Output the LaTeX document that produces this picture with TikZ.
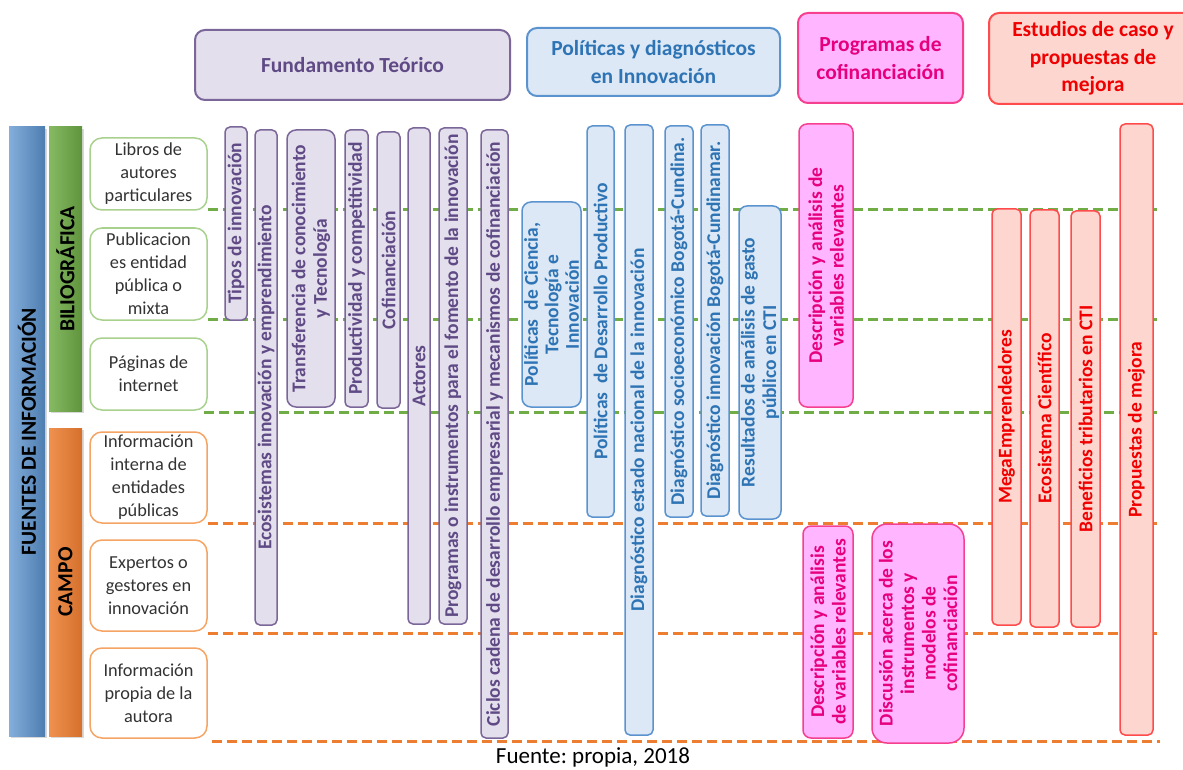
\documentclass[tikz,border=0pt]{standalone}
\usepackage{fontspec}
\setmainfont{Carlito}
\frenchspacing
\usetikzlibrary{shadows}
\definecolor{purpF}{HTML}{E4DFEC}
\definecolor{purpD}{HTML}{7B6699}
\definecolor{purpT}{HTML}{5F4A86}
\definecolor{blueF}{HTML}{DCE8F5}
\definecolor{blueD}{HTML}{5B93CF}
\definecolor{blueT}{HTML}{2E74B5}
\definecolor{pinkF}{HTML}{FFB5FF}
\definecolor{pinkD}{HTML}{F5408F}
\definecolor{pinkT}{HTML}{E6007E}
\definecolor{redF}{HTML}{FCD6CF}
\definecolor{redD}{HTML}{FF4B4B}
\definecolor{redT}{HTML}{F00000}
\definecolor{gLine}{HTML}{70AD47}
\definecolor{oLine}{HTML}{ED7D31}
\definecolor{gBox}{HTML}{A9D18E}
\definecolor{oBox}{HTML}{F5A464}
\definecolor{txtG}{HTML}{333333}
\tikzset{
  bar/.style={rounded corners=5pt, line width=1.5pt, inner sep=0pt, align=center, rotate=90,
    font=\bfseries\fontsize{19.5}{21.5}\selectfont},
  purp/.style={bar, fill=purpF, draw=purpD, text=purpT},
  blu/.style={bar, fill=blueF, draw=blueD, text=blueT},
  pnk/.style={bar, fill=pinkF, draw=pinkD, text=pinkT},
  rd/.style={bar, fill=redF, draw=redD, text=redT},
  head/.style={rounded corners=10pt, line width=2pt, inner sep=0pt, align=center,
    font=\bfseries\fontsize{21.5}{27.5}\selectfont},
  src/.style={rounded corners=12pt, line width=1.5pt, fill=white, inner sep=0pt, align=center,
    minimum width=117pt, text=txtG, font=\fontsize{18.3}{23}\selectfont},
  srcG/.style={src, draw=gBox},
  srcO/.style={src, draw=oBox},
  big/.style={inner sep=0pt, rotate=90, text=black, font=\bfseries\fontsize{21.5}{24}\selectfont,
    drop shadow={opacity=0.3, shadow xshift=2pt, shadow yshift=-2pt}},
  gdash/.style={draw=gLine, line width=3pt, dash pattern=on 10pt off 5pt},
  odash/.style={draw=oLine, line width=3pt, dash pattern=on 10pt off 5pt},
}
\begin{document}
\begin{tikzpicture}[x=1pt,y=-1pt]
\useasboundingbox (0,0) rectangle (1183,770);
\fill[white] (0,0) rectangle (1183,770);
\clip (0,0) rectangle (1183,770);

% big left bars
\node[big, left color=white!25!blueD, right color=blueD!85!black, minimum width=609pt, minimum height=36pt] (fuentes) at (27,431.5) {FUENTES DE INFORMACIÓN};
\node[big, left color=white!15!gLine, right color=gLine!85!black, minimum width=284pt, minimum height=33pt] (bib) at (65.5,269) {BILIOGRÁFICA};
\node[big, left color=white!15!oLine, right color=oLine!90!black, minimum width=308pt, minimum height=33pt] (campo) at (65.5,582) {CAMPO};

% source boxes
\node[srcG, minimum height=72pt] (libros) at (148.5,174) {Libros de\\autores\\particulares};
\node[srcG, minimum height=92pt] (publ) at (148.5,274) {Publicacion\\es entidad\\pública o\\mixta};
\node[srcG, minimum height=72pt] (pag) at (148.5,374) {Páginas de\\internet};
\node[srcO, minimum height=91pt] (infint) at (148.5,477.5) {Información\\interna de\\entidades\\públicas};
\node[srcO, minimum height=91pt] (exp) at (148.5,585.5) {Expertos o\\gestores en\\innovación};
\node[srcO, minimum height=90pt] (infprop) at (148.5,693) {Información\\propia de la\\autora};

% dashed separators
\coordinate (rend) at (1157,0);
\coordinate (rend2) at (1160,0);
\draw[gdash] ([yshift=1.5pt]libros.south east) -- ([yshift=1.5pt]libros.south east -| rend);
\draw[gdash] ([yshift=1.5pt]publ.south east) -- ([yshift=1.5pt]publ.south east -| rend);
\draw[gdash] ([xshift=-4pt,yshift=-2pt]pag.south east) -- ([yshift=-2pt]pag.south east -| rend);
\draw[odash] (infint.south east) -- (infint.south east -| rend);
\draw[odash] ([yshift=-2pt]exp.south east) -- ([yshift=-2pt]exp.south east -| rend);
\draw[odash] ([xshift=4pt,yshift=-3pt]infprop.south east) -- ([yshift=-3pt]infprop.south east -| rend2);

% headers
\node[head, fill=purpF, draw=purpD, text=purpT, minimum width=315pt, minimum height=70pt] (fund) at (352.5,65) {Fundamento Teórico};
\node[head, fill=blueF, draw=blueD, text=blueT, minimum width=253pt, minimum height=68pt] (pol) at (653.5,62) {Políticas y diagnósticos\\en Innovación};
\node[head, fill=pinkF, draw=pinkD, text=pinkT, minimum width=165pt, minimum height=90pt] (prog) at (880.5,58) {Programas de\\cofinanciación};
\node[head, fill=redF, draw=redD, text=redT, minimum width=208pt, minimum height=91pt] (est) at (1093,58.5) {Estudios de caso y\\propuestas de\\mejora};

% Fundamento teórico bars
\node[purp, minimum width=193pt, minimum height=22pt] (tipos) at (236,223.5) {Tipos de innovación};
\node[purp, minimum width=495pt, minimum height=22pt] (eco) at (266,377.5) {Ecosistemas innovación y emprendimiento};
\node[purp, minimum width=277pt, minimum height=48pt, rounded corners=9pt] (trans) at (311,268.5) {Transferencia de conocimiento\\y Tecnología};
\node[purp, minimum width=277pt, minimum height=23pt] (prod) at (356.5,268.5) {Productividad y competitividad};
\node[purp, minimum width=276pt, minimum height=23pt] (cofin) at (388.5,270) {Cofinanciación};
\node[purp, minimum width=496pt, minimum height=22pt] (act) at (419,376) {Actores};
\node[purp, minimum width=496pt, minimum height=28pt] (progi) at (453,376) {Programas o instrumentos para el fomento de la innovación};
\node[purp, minimum width=608pt, minimum height=27pt] (ciclos) at (494.5,434) {Ciclos cadena de desarrollo empresarial y mecanismos de cofinanciación};

% Políticas bars
\node[blu, minimum width=205pt, minimum height=59pt, rounded corners=9pt, font=\bfseries\fontsize{19.5}{20.5}\selectfont] (polcti) at (551.5,304.5) {Políticas~ de Ciencia,\\Tecnología e\\Innovación};
\node[blu, minimum width=391pt, minimum height=27pt] (poldp) at (600.5,321.5) {Políticas~ de Desarrollo Productivo};
\node[blu, minimum width=610pt, minimum height=28pt] (diagnac) at (639,430) {Diagnóstico estado nacional de la innovación};
\node[blu, minimum width=391pt, minimum height=28pt] (diagsoc) at (679,321.5) {Diagnóstico socioeconómico Bogotá-Cundina.};
\node[blu, minimum width=391pt, minimum height=28pt] (diaginn) at (715,320.5) {Diagnóstico innovación Bogotá-Cundinamar.};
\node[blu, minimum width=313pt, minimum height=42pt, rounded corners=8pt] (result) at (760,362.5) {Resultados de análisis de gasto\\público en CTI};

% Programas bars
\node[pnk, minimum width=283pt, minimum height=54pt, rounded corners=8pt] (desc1) at (826,265.5) {Descripción y análisis de\\variables relevantes};
\node[pnk, minimum width=212pt, minimum height=50pt, rounded corners=8pt] (desc2) at (828,632) {Descripción y análisis\\de variables relevantes};
\node[pnk, minimum width=219pt, minimum height=92pt, rounded corners=15pt] (disc) at (918,633.5) {Discusión acerca de los\\instrumentos y\\modelos de\\cofinanciación};

% Estudios bars
\node[rd, minimum width=416pt, minimum height=29pt] (mega) at (1006.5,417) {MegaEmprendedores};
\node[rd, minimum width=417pt, minimum height=29pt] (ecoc) at (1044.5,418.5) {Ecosistema Científico};
\node[rd, minimum width=416pt, minimum height=29pt] (benef) at (1085.5,419) {Beneficios tributarios en CTI};
\node[rd, minimum width=611pt, minimum height=33pt] (prop) at (1136.5,429.5) {Propuestas de mejora};

% footer
\node[inner sep=0pt, font=\fontsize{23}{26}\selectfont] (fuente) at (593,757) {Fuente: propia, 2018};
\end{tikzpicture}
\end{document}
